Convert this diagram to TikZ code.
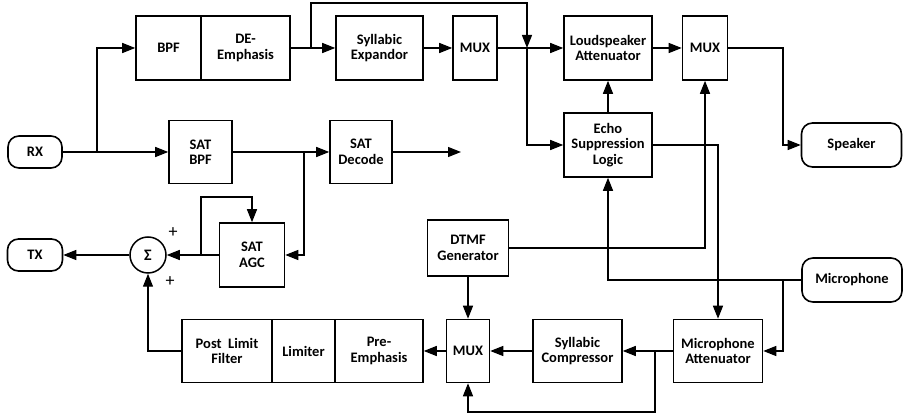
\documentclass[tikz,border=0pt]{standalone}
\usepackage{fontspec}
\setmainfont{Carlito}
\usetikzlibrary{arrows.meta}
\begin{document}
\begin{tikzpicture}[x=1pt,y=-1pt,
 box/.style={draw,line width=1.6pt,inner sep=0pt,align=center,font=\bfseries\fontsize{14.5}{15.5}\selectfont},
 term/.style={box,rounded corners=11pt},
 conn/.style={line width=1.4pt,-{Triangle[length=13pt,width=10pt]}},
 plus/.style={font=\fontsize{18}{18}\selectfont,inner sep=0pt}]
\useasboundingbox (0,0) rectangle (903,419);
% top row
\node[term,minimum width=54pt,minimum height=32pt] (rx) at (35,152) {RX};
\node[box,minimum width=65pt,minimum height=64pt] (bpf) at (168.5,48) {BPF};
\node[box,minimum width=89pt,minimum height=64pt] (de) at (245.5,48) {DE-\\Emphasis};
\node[box,minimum width=87pt,minimum height=64pt] (se) at (379.5,48) {Syllabic\\Expandor};
\node[box,minimum width=44pt,minimum height=64pt] (mux1) at (475,48) {MUX};
\node[box,minimum width=88pt,minimum height=64pt] (la) at (608,48) {Loudspeaker\\Attenuator};
\node[box,minimum width=45pt,minimum height=64pt] (mux2) at (705,48) {MUX};
\node[box,minimum width=88pt,minimum height=64pt] (esl) at (608,145) {Echo\\Suppression\\Logic};
\node[term,minimum width=100pt,minimum height=44pt] (spk) at (851.5,145) {Speaker};
% middle
\node[box,minimum width=63pt,minimum height=63pt] (satbpf) at (200.5,152) {SAT\\BPF};
\node[box,minimum width=62pt,minimum height=63pt] (satd) at (361,152) {SAT\\Decode};
\coordinate (satout) at (461,152);
\node[box,minimum width=65pt,minimum height=64pt] (agc) at (252,255) {SAT\\AGC};
\node[circle,draw,line width=1.5pt,minimum size=36pt,inner sep=0pt,font=\bfseries\fontsize{16}{16}\selectfont] (sum) at (148,255) {Σ};
\node[plus] (p1) at (173,233) {+};
\node[plus] (p2) at (170,282) {+};
\node[term,minimum width=55pt,minimum height=32pt] (tx) at (35,255) {TX};
\node[box,minimum width=81pt,minimum height=56pt] (dtmf) at (468,248) {DTMF\\Generator};
\node[term,minimum width=100pt,minimum height=44pt] (mic) at (852,280) {Microphone};
% bottom row
\node[box,minimum width=89pt,minimum height=63pt] (ma) at (718,351) {Microphone\\Attenuator};
\node[box,minimum width=89pt,minimum height=63pt] (sc) at (577.5,351) {Syllabic\\Compressor};
\node[box,minimum width=43pt,minimum height=63pt] (mux3) at (468,351) {MUX};
\node[box,minimum width=88pt,minimum height=63pt] (pe) at (379,351) {Pre-\\Emphasis};
\node[box,minimum width=63pt,minimum height=63pt] (lim) at (303.5,351) {Limiter};
\node[box,minimum width=90pt,minimum height=63pt] (plf) at (227,351) {Post~~Limit\\Filter};
% connectors
\coordinate (j1) at (527,48);
\draw[conn] (rx.east) -- (97,152) |- (bpf.west);
\draw[conn] (rx.east) -- (satbpf.west);
\draw[conn] (de.east) -- (se.west);
\draw[conn] (311,48) -- (311,3) -| (j1);
\draw[conn] (se.east) -- (mux1.west);
\draw[conn] (mux1.east) -- (la.west);
\draw[conn] (j1) |- (esl.west);
\draw[conn] (esl.north) -- (la.south);
\draw[conn] (la.east) -- (mux2.west);
\draw[conn] (mux2.east) -- (783,48) |- (spk.west);
\draw[conn] (satbpf.east) -- (satd.west);
\draw[conn] (304,152) |- (agc.east);
\draw[conn] (satd.east) -- (satout);
\draw[conn] (agc.west) -- (sum.east);
\draw[conn] (201,255) -- (201,197) -| (agc.north);
\draw[conn] (sum.west) -- (tx.east);
\draw[conn] (plf.west) -| (sum.south);
\draw[conn] (mux3.west) -- (pe.east);
\draw[conn] (sc.west) -- (mux3.east);
\draw[conn] (ma.west) -- (sc.east);
\draw[conn] (655,351) -- (655,412) -| (mux3.south);
\draw[conn] (dtmf.south) -- (mux3.north);
\draw[conn] (dtmf.east) -| (mux2.south);
\draw[conn] (mic.west) -| (esl.south);
\draw[conn] (783,280) |- (ma.east);
\draw[conn] (esl.east) -| (ma.north);
\end{tikzpicture}
\end{document}
